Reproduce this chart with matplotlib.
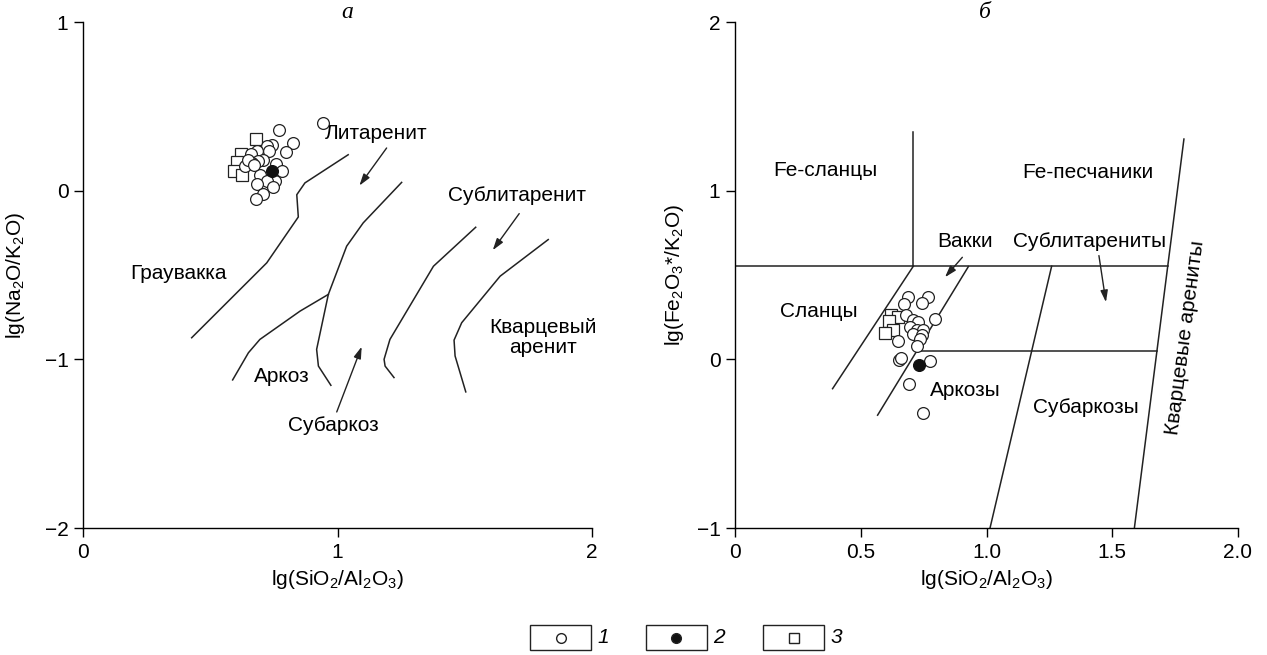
import matplotlib
matplotlib.use('Agg')
import matplotlib.pyplot as plt
from matplotlib.patches import Rectangle
from matplotlib.lines import Line2D

plt.rcParams['font.family'] = ['Liberation Sans', 'DejaVu Sans']
plt.rcParams['mathtext.fontset'] = 'custom'
plt.rcParams['mathtext.rm'] = 'Liberation Sans'
plt.rcParams['mathtext.it'] = 'Liberation Sans:italic'

FS = 15

# ---- panel a: lg(SiO2/Al2O3) vs lg(Na2O/K2O) ----
a_x_open = [0.942, 0.771, 0.824, 0.798, 0.741, 0.722, 0.731, 0.682, 0.660, 0.708, 0.689,
            0.663, 0.643, 0.637, 0.758, 0.781, 0.695, 0.754, 0.722, 0.685, 0.748, 0.706,
            0.680, 0.650, 0.670]
a_y_open = [0.402, 0.361, 0.282, 0.229, 0.268, 0.262, 0.237, 0.233, 0.217, 0.183, 0.178,
            0.164, 0.158, 0.144, 0.158, 0.114, 0.095, 0.055, 0.055, 0.041, 0.022, -0.020,
            -0.047, 0.180, 0.150]
a_x_filled = [0.741]
a_y_filled = [0.114]
a_x_square = [0.680, 0.620, 0.606, 0.593, 0.624]
a_y_square = [0.308, 0.217, 0.170, 0.118, 0.095]

# field boundaries (Pettijohn-type diagram)
a_line1_x = [0.427, 0.722, 0.846, 0.840, 0.872, 1.042]
a_line1_y = [-0.872, -0.428, -0.156, -0.024, 0.046, 0.213]
a_line2_x = [1.252, 1.101, 1.036, 0.964, 0.918, 0.925, 0.974]
a_line2_y = [0.049, -0.191, -0.329, -0.615, -0.941, -1.040, -1.154]
a_line3_x = [0.964, 0.853, 0.695, 0.650, 0.588]
a_line3_y = [-0.615, -0.714, -0.882, -0.961, -1.122]
a_line4_x = [1.543, 1.377, 1.206, 1.183, 1.187, 1.222]
a_line4_y = [-0.217, -0.448, -0.882, -1.000, -1.040, -1.108]
a_line5_x = [1.828, 1.639, 1.488, 1.458, 1.462, 1.504]
a_line5_y = [-0.290, -0.507, -0.783, -0.886, -0.980, -1.193]

a_labels = ['Литаренит', 'Сублитаренит', 'Граувакка', 'Кварцевый\nаренит', 'Аркоз', 'Субаркоз']
a_label_x = [1.151, 1.705, 0.377, 1.809, 0.781, 0.984]
a_label_y = [0.337, -0.030, -0.491, -0.870, -1.102, -1.394]
# arrows: (start x, start y, end x, end y)
a_arrows = [(1.193, 0.253, 1.086, 0.030),
            (1.714, -0.136, 1.610, -0.353),
            (0.997, -1.312, 1.095, -0.925)]

# ---- panel b: lg(SiO2/Al2O3) vs lg(Fe2O3*/K2O) ----
b_x_open = [0.687, 0.673, 0.769, 0.742, 0.680, 0.709, 0.729, 0.795, 0.696, 0.722, 0.749,
            0.709, 0.742, 0.736, 0.647, 0.722, 0.653, 0.660, 0.775, 0.692, 0.746]
b_y_open = [0.369, 0.329, 0.369, 0.335, 0.260, 0.235, 0.221, 0.241, 0.191, 0.172, 0.172,
            0.152, 0.142, 0.122, 0.107, 0.077, -0.002, 0.010, -0.010, -0.144, -0.321]
b_x_filled = [0.733]
b_y_filled = [-0.036]
b_x_square = [0.619, 0.649, 0.614, 0.630, 0.596]
b_y_square = [0.260, 0.250, 0.225, 0.172, 0.156]

# field boundaries (Herron-type diagram)
b_lines = [
    ([0.0, 1.720], [0.552, 0.552]),
    ([0.709, 0.709], [0.552, 1.345]),
    ([0.388, 0.709], [-0.174, 0.552]),
    ([0.567, 0.928], [-0.331, 0.550]),
    ([0.723, 1.678], [0.049, 0.049]),
    ([1.014, 1.259], [-1.0, 0.552]),
    ([1.588, 1.785], [-1.0, 1.306]),
]

b_labels = ['Fe-сланцы', 'Fe-песчаники', 'Вакки', 'Сублитарениты', 'Сланцы', 'Аркозы', 'Субаркозы']
b_label_x = [0.358, 1.405, 0.915, 1.409, 0.335, 0.917, 1.397]
b_label_y = [1.122, 1.108, 0.700, 0.700, 0.284, -0.183, -0.285]
b_arrows = [(0.904, 0.605, 0.835, 0.487),
            (1.447, 0.615, 1.475, 0.339)]

legend_labels = ['1', '2', '3']


def style_axes(ax, xlim, ylim, xticks, xticklabels, yticks):
    ax.set_xlim(*xlim)
    ax.set_ylim(*ylim)
    ax.spines['top'].set_visible(False)
    ax.spines['right'].set_visible(False)
    for s in ('left', 'bottom'):
        ax.spines[s].set_linewidth(1.0)
    ax.set_xticks(xticks)
    ax.set_xticklabels(xticklabels)
    ax.set_yticks(yticks)
    ax.tick_params(direction='out', length=6.5, width=1.0, labelsize=FS, pad=4)


def draw_points(ax, xo, yo, xs, ys, xf, yf):
    ax.plot(xs, ys, 's', ms=8, mfc='white', mec='#222222', mew=0.9, ls='none', clip_on=False)
    ax.plot(xo, yo, 'o', ms=8.5, mfc='white', mec='#222222', mew=0.9, ls='none', clip_on=False)
    ax.plot(xf, yf, 'o', ms=8.5, mfc='#111111', mec='#111111', mew=0.9, ls='none', clip_on=False)


def draw_arrows(ax, arrows):
    for x0, y0, x1, y1 in arrows:
        ax.annotate('', xy=(x1, y1), xytext=(x0, y0),
                    arrowprops=dict(arrowstyle='-|>,head_length=0.7,head_width=0.22',
                                    lw=1.0, color='#222222', shrinkA=0, shrinkB=0))


fig = plt.figure(figsize=(12.67, 6.55), dpi=100)
W, H = 1267, 655
ax_a = fig.add_axes([83 / W, 1 - 528 / H, 509 / W, 506 / H])
ax_b = fig.add_axes([735 / W, 1 - 528 / H, 503 / W, 506 / H])

# panel a
style_axes(ax_a, (0, 2), (-2, 1), [0, 1, 2], ['0', '1', '2'], [-2, -1, 0, 1])
for lx, ly in [(a_line1_x, a_line1_y), (a_line2_x, a_line2_y), (a_line3_x, a_line3_y),
               (a_line4_x, a_line4_y), (a_line5_x, a_line5_y)]:
    ax_a.plot(lx, ly, color='#222222', lw=1.1)
for t, x, y in zip(a_labels, a_label_x, a_label_y):
    ax_a.text(x, y, t, ha='center', va='center', fontsize=FS, multialignment='center',
              linespacing=1.1)
draw_arrows(ax_a, a_arrows)
draw_points(ax_a, a_x_open, a_y_open, a_x_square, a_y_square, a_x_filled, a_y_filled)
ax_a.set_xlabel('lg(SiO$_2$/Al$_2$O$_3$)', fontsize=FS)
ax_a.set_ylabel('lg(Na$_2$O/K$_2$O)', fontsize=FS)
ax_a.xaxis.set_label_coords(0.5, -0.08)
ax_a.yaxis.set_label_coords(-0.11, 0.5)

# panel b
style_axes(ax_b, (0, 2), (-1, 2), [0, 0.5, 1.0, 1.5, 2.0],
           ['0', '0.5', '1.0', '1.5', '2.0'], [-1, 0, 1, 2])
for lx, ly in b_lines:
    ax_b.plot(lx, ly, color='#222222', lw=1.1)
for t, x, y in zip(b_labels, b_label_x, b_label_y):
    ax_b.text(x, y, t, ha='center', va='center', fontsize=FS)
ax_b.text(1.789, 0.13, 'Кварцевые арениты', ha='center', va='center', fontsize=FS,
          rotation=82.5, rotation_mode='anchor')
draw_arrows(ax_b, b_arrows)
draw_points(ax_b, b_x_open, b_y_open, b_x_square, b_y_square, b_x_filled, b_y_filled)
ax_b.set_xlabel('lg(SiO$_2$/Al$_2$O$_3$)', fontsize=FS)
ax_b.set_ylabel('lg(Fe$_2$O$_3$*/K$_2$O)', fontsize=FS)
ax_b.xaxis.set_label_coords(0.5, -0.08)
ax_b.yaxis.set_label_coords(-0.097, 0.5)

# panel letters
fig.text(347 / W, 1 - 13 / H, 'а', family='Liberation Serif', style='italic',
         fontsize=17, ha='center', va='center')
fig.text(985 / W, 1 - 13 / H, 'б', family='Liberation Serif', style='italic',
         fontsize=17, ha='center', va='center')

# legend boxes at the bottom
box_left = [530, 646, 763]
box_w, box_h = 61, 25
box_top = 625
markers = [dict(marker='o', mfc='white'), dict(marker='o', mfc='#111111'),
           dict(marker='s', mfc='white')]
for bl, lab, mk in zip(box_left, legend_labels, markers):
    fig.patches.append(Rectangle((bl / W, 1 - (box_top + box_h) / H), box_w / W, box_h / H,
                                 transform=fig.transFigure, fill=False,
                                 edgecolor='#222222', lw=1.0))
    fig.lines.append(Line2D([(bl + box_w / 2) / W], [1 - (box_top + box_h / 2) / H],
                            transform=fig.transFigure, ls='none', ms=7,
                            mec='#222222', mew=1.0, **mk))
    fig.text((bl + box_w + 12) / W, 1 - (box_top + box_h / 2) / H, lab, fontsize=FS,
             style='italic', ha='center', va='center')

fig.savefig('out.png', dpi=100)
